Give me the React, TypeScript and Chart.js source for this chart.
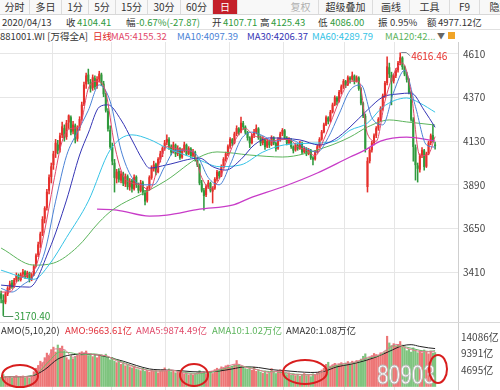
import React, { useEffect, useRef } from 'react';
import { Chart, registerables } from 'chart.js';

Chart.register(...registerables);

const FONT = '"Noto Sans CJK SC", "Noto Sans", sans-serif';
Chart.defaults.font.family = FONT;

// ---------- data ----------
// [open, high, low, close]
const candles: number[][] = [
  [3290,3305,3240,3265],[3255,3285,3170.4,3240],[3245,3300,3235,3290],[3290,3330,3280,3320],[3322,3360,3310,3345],
  [3350,3365,3320,3330],[3330,3375,3325,3365],[3368,3405,3355,3390],[3392,3400,3360,3370],[3368,3405,3360,3395],
  [3398,3425,3385,3410],[3412,3418,3375,3385],[3385,3415,3378,3405],[3405,3410,3355,3370],[3372,3402,3362,3395],
  [3398,3450,3390,3440],[3445,3510,3438,3500],[3505,3575,3495,3560],[3565,3630,3545,3620],[3625,3715,3610,3700],
  [3705,3770,3680,3760],[3765,3865,3750,3850],[3860,3945,3840,3930],[3935,4010,3900,3990],[4000,4075,3975,4060],
  [4065,4140,4040,4120],[4110,4135,4060,4080],[4085,4175,4070,4160],[4165,4235,4150,4210],[4200,4220,4130,4150],
  [4155,4245,4140,4230],[4235,4275,4200,4270],[4260,4270,4165,4180],[4185,4240,4170,4220],[4215,4225,4120,4140],
  [4145,4215,4130,4200],[4205,4265,4190,4250],[4255,4345,4245,4330],[4335,4455,4325,4440],[4445,4505,4420,4490],
  [4495,4527,4445,4460],[4455,4470,4400,4420],[4425,4495,4410,4480],[4475,4490,4415,4430],[4435,4485,4420,4470],
  [4472,4515,4455,4500],[4495,4505,4435,4450],[4445,4460,4375,4390],[4385,4395,4290,4300],[4295,4310,4185,4200],
  [4190,4215,4090,4100],[4095,4120,4000,4020],[4010,4030,3850,3930],[3925,3975,3900,3960],[3965,3980,3905,3920],
  [3915,3965,3900,3950],[3950,3960,3885,3900],[3895,3950,3880,3935],[3935,3945,3865,3880],[3878,3925,3860,3910],
  [3912,3920,3850,3870],[3868,3945,3860,3930],[3932,3940,3875,3890],[3885,3900,3845,3860],[3858,3915,3850,3900],
  [3902,3910,3835,3850],[3845,3860,3779,3800],[3805,3880,3795,3870],[3872,3940,3860,3930],[3930,3995,3920,3980],
  [3978,4020,3965,4000],[4002,4010,3945,3960],[3962,4040,3955,4030],[4030,4075,4015,4060],[4062,4100,4045,4090],
  [4092,4135,4080,4120],[4125,4165,4110,4140],[4138,4150,4085,4100],[4098,4110,4055,4070],[4072,4125,4065,4110],
  [4108,4115,4045,4060],[4062,4105,4050,4090],[4088,4095,4030,4040],[4042,4090,4035,4080],[4082,4125,4070,4110],
  [4108,4115,4050,4060],[4062,4100,4055,4090],[4088,4095,4040,4050],[4052,4085,4045,4070],[4068,4075,4020,4030],
  [4028,4040,3990,4000],[3995,4005,3890,3900],[3895,3915,3850,3860],[3858,3870,3751,3830],[3835,3890,3825,3880],
  [3882,3915,3870,3900],[3898,3905,3850,3860],[3855,3880,3790,3870],[3872,3930,3865,3920],[3922,3970,3910,3960],
  [3958,3965,3925,3940],[3942,4000,3935,3990],[3992,4040,3985,4030],[4032,4070,4020,4060],[4062,4110,4050,4100],
  [4102,4150,4090,4140],[4138,4145,4105,4120],[4122,4180,4115,4170],[4172,4215,4160,4200],[4198,4205,4165,4180],
  [4182,4263,4175,4230],[4228,4240,4195,4210],[4208,4215,4170,4180],[4178,4185,4135,4150],[4148,4155,4095,4120],
  [4122,4170,4115,4160],[4162,4195,4150,4180],[4182,4220,4170,4200],[4198,4205,4140,4150],[4148,4160,4105,4120],
  [4122,4155,4110,4140],[4138,4145,4085,4100],[4102,4140,4095,4130],[4128,4135,4095,4110],[4112,4160,4105,4150],
  [4148,4155,4110,4120],[4118,4125,4075,4090],[4092,4150,4085,4140],[4142,4180,4130,4170],[4172,4200,4160,4190],
  [4188,4195,4140,4150],[4148,4155,4110,4120],[4122,4150,4115,4140],[4138,4145,4090,4100],[4098,4105,4065,4080],
  [4082,4120,4075,4110],[4108,4115,4080,4090],[4092,4130,4085,4120],[4118,4125,4060,4070],[4072,4100,4065,4090],
  [4088,4095,4050,4060],[4062,4090,4055,4080],[4078,4085,4030,4040],[4038,4045,4000,4030],[4032,4080,4025,4070],
  [4072,4110,4065,4100],[4102,4150,4095,4140],[4142,4190,4135,4180],[4182,4230,4175,4220],[4222,4270,4215,4260],
  [4258,4265,4225,4240],[4242,4300,4235,4290],[4292,4340,4285,4330],[4332,4380,4325,4370],[4368,4375,4330,4350],
  [4352,4410,4345,4400],[4402,4440,4390,4430],[4432,4470,4420,4460],[4458,4465,4425,4440],[4442,4490,4435,4480],
  [4478,4485,4450,4470],[4472,4511,4465,4490],[4488,4495,4445,4460],[4462,4490,4455,4480],[4478,4485,4410,4420],
  [4418,4425,4330,4340],[4338,4345,4260,4270],[4268,4280,4070,4090],[3880,4040,3850,4020],[4022,4090,4010,4080],
  [4082,4130,4070,4120],[4122,4170,4110,4160],[4162,4210,4150,4200],[4202,4260,4190,4250],[4252,4320,4240,4310],
  [4312,4390,4300,4380],[4382,4460,4370,4450],[4452,4594,4440,4540],[4535,4560,4480,4500],[4495,4510,4330,4460],
  [4462,4500,4450,4490],[4492,4530,4480,4520],[4522,4570,4510,4560],[4562,4616.46,4550,4590],[4588,4595,4525,4540],
  [4538,4545,4490,4500],[4498,4510,4455,4470],[4468,4475,4390,4400],[4398,4405,4240,4250],[4248,4260,4020,4100],
  [4095,4110,3916,4000],[3995,4010,3905,3980],[3975,4060,3960,4050],[4052,4095,4040,4080],[4078,4085,3970,3990],
  [3992,4070,3985,4060],[4062,4130,4055,4120],[4122,4170,4110,4160],[4162,4220,4125,4132.28],[4107.71,4125.43,4086,4104.41],
];

// turnover (亿)
const amo: number[] = [
  2600,3400,2800,2500,2900,2400,2700,3100,2600,2800,3000,2500,2700,2400,3000,
  4200,5200,6000,7200,6800,8200,9500,8800,
  10500,11200,9800,11800,10900,11500,10200,
  8200,7600,8800,7900,
  8600,9200,9600,9900,9400,10100,8800,9300,8500,9000,8200,8700,
  9000,8800,9200,8100,7600,8300,7200,6800,7100,6300,6600,5900,6200,5600,5300,5800,5000,4800,
  4500,5200,4300,4600,4100,4700,4300,4500,3900,4400,4800,
  5300,4600,5000,4200,4500,3900,4100,3600,4000,3500,3800,3300,3700,3200,3600,3900,
  4500,3800,4200,3600,3900,4300,3700,
  4800,5200,4900,5600,5300,5900,6100,5400,5800,6200,7400,6300,5700,5500,5100,4900,
  5200,4600,5500,4300,4700,4100,3800,4400,3600,4000,5100,4200,3700,4500,4800,4000,
  3800,3400,3900,3200,3600,3100,3500,2900,3300,3700,3100,3400,2800,3600,3200,3900,4300,4700,5200,
  6300,6900,5800,6200,6600,5900,6400,6800,6100,6700,7100,6500,7200,6900,7400,7000,
  7800,8600,9300,7600,8200,8800,9400,9100,8700,9600,9200,9800,
  14300,
  12400,11600,12200,11400,12000,12800,11800,
  11000,10200,10600,9800,11000,10400,9600,
  10200,9600,10400,9800,9300,10100,9500,9663.61,
];

// moving-average key points [candle index, value]
const ma5Pts = [[0,3300],[4,3300],[8,3370],[12,3395],[16,3440],[20,3640],[24,3900],[28,4130],[32,4200],[36,4210],[40,4420],[44,4460],[48,4400],[52,4110],[56,3940],[60,3900],[64,3890],[68,3860],[72,3990],[76,4100],[80,4090],[84,4080],[88,4070],[92,3930],[96,3870],[100,3920],[104,4040],[108,4150],[112,4200],[116,4160],[120,4150],[124,4130],[128,4140],[132,4140],[136,4100],[140,4080],[144,4050],[148,4140],[152,4260],[156,4380],[160,4460],[164,4460],[168,4170],[172,4130],[176,4350],[180,4500],[184,4560],[188,4400],[192,4050],[196,4060],[199,4155.32]];
const ma10Pts = [[0,3320],[5,3300],[10,3340],[15,3390],[20,3520],[25,3800],[30,4050],[35,4180],[40,4300],[45,4440],[50,4350],[55,4080],[60,3930],[65,3890],[70,3890],[75,3990],[80,4080],[85,4080],[90,4050],[95,3930],[100,3890],[105,4000],[110,4140],[115,4180],[120,4160],[125,4130],[130,4140],[135,4130],[140,4090],[145,4070],[150,4150],[155,4280],[160,4410],[165,4440],[170,4260],[175,4220],[180,4400],[185,4520],[190,4320],[195,4110],[199,4097.39]];
const ma30Pts = [[0,3338],[13,3327],[22,3531],[30,3806],[36,4054],[40,4175],[45,4318],[49,4330],[55,4247],[60,4137],[65,4026],[68,3982],[76,4000],[91,4037],[97,3990],[103,3971],[110,4030],[116,4109],[123,4148],[137,4137],[146,4109],[153,4140],[160,4208],[168,4302],[175,4373],[182,4390],[188,4395],[194,4300],[199,4206.37]];
const ma60Pts = [[0,3420],[15,3370],[22,3450],[30,3600],[40,3800],[50,4082],[60,4165],[68,4140],[76,4093],[91,4026],[100,3990],[110,4000],[120,4070],[130,4110],[145,4120],[153,4130],[160,4190],[168,4230],[175,4318],[186,4368],[192,4340],[199,4289.79]];
const ma120Pts = [[0,3542],[15,3448],[24,3459],[35,3548],[45,3685],[51,3751],[68,3861],[76,3916],[91,4043],[99,4071],[114,4054],[129,4043],[149,4098],[160,4153],[168,4208],[178,4247],[186,4236],[199,4219]];
const ma250Pts = [[44,3756],[53,3751],[68,3718],[76,3723],[91,3756],[106,3778],[114,3817],[129,3878],[145,3955],[160,4043],[167,4082],[174,4131],[186,4153],[199,4131]];

const ama5Pts = [[0,2900],[4,2700],[9,2800],[13,2700],[17,4800],[21,8200],[25,10700],[29,10500],[33,8300],[38,9600],[43,9000],[48,8800],[53,7300],[58,6200],[63,5200],[68,4500],[73,4400],[78,4700],[83,3900],[88,3500],[93,4100],[98,4500],[103,5600],[108,6400],[113,5300],[118,4700],[123,4000],[128,4400],[133,3500],[138,3300],[143,3300],[148,4500],[153,6300],[158,6500],[163,7100],[168,8300],[173,9000],[177,10600],[181,12000],[186,10900],[190,10200],[194,9900],[199,9874.49]];
const ama10Pts = [[0,2800],[6,2750],[12,2850],[17,4000],[22,7200],[27,9800],[32,9600],[37,9000],[42,9300],[47,8800],[52,7800],[57,6600],[62,5500],[67,4700],[72,4400],[78,4600],[84,4000],[90,3700],[96,4000],[102,5000],[108,5900],[114,5400],[120,4400],[126,4200],[132,3700],[138,3400],[144,3400],[150,5200],[156,6300],[162,6800],[168,8000],[174,9000],[180,11600],[186,11200],[192,10300],[196,10000],[199,10200]];
const ama20Pts = [[0,2800],[8,2800],[14,3000],[20,4800],[26,7800],[32,9000],[38,9200],[44,9000],[50,8200],[56,7200],[62,6000],[68,5000],[75,4700],[82,4500],[88,4200],[94,4100],[100,4400],[106,5000],[112,5600],[118,5400],[124,4800],[130,4500],[136,4200],[142,4000],[148,4300],[154,5600],[160,6300],[166,7200],[172,8400],[178,10000],[184,11600],[188,11900],[192,11400],[196,11000],[199,10800]];

const slotCount = 210;
const monthStarts = [24, 51, 76, 105, 130, 158, 181];
const priceTicks = [3410, 3650, 3890, 4130, 4370, 4610];
const amoTicks = [4695, 9391, 14086];

// ---------- styles ----------
const RED = '#e6302c';
const GREEN = '#2f9a3d';
const VRED = 'rgba(232,80,80,0.78)';
const VGREEN = 'rgba(90,180,90,0.78)';
const GRID = '#e6e6e6';
const TXT = '#333';
const NUMG = '#2f9a3d';
const C_MA5 = '#e2486a';
const C_MA10 = '#4a82d6';
const C_MA30 = '#3535b5';
const C_MA60 = '#35c3e6';
const C_MA120 = '#5cb45c';
const C_MA250 = '#c83cc8';

const toXY = (pts: number[][]) => pts.map(([x, y]) => ({ x, y }));
const labels = Array.from({ length: slotCount }, (_, i) => i);
const isUp = candles.map((c) => c[3] >= c[0]);

const lineDs = (label: string, pts: number[][], color: string, width = 1) => ({
  type: 'line' as const,
  label,
  data: toXY(pts),
  borderColor: color,
  borderWidth: width,
  pointRadius: 0,
  cubicInterpolationMode: 'monotone' as const,
  order: 0,
});

const makeXScale = () => ({
  offset: true,
  grid: {
    offset: true,
    drawTicks: false,
    lineWidth: 1,
    color: (c: any) => (monthStarts.includes(c.index) ? GRID : 'rgba(0,0,0,0)'),
  },
  ticks: { display: false, autoSkip: false },
  border: { display: false },
});

const extremesPlugin = {
  id: 'extremes',
  afterDatasetsDraw(chart: any) {
    const { ctx, scales } = chart;
    const x = scales.x;
    const y = scales.y;
    let hi = 0;
    let lo = 0;
    candles.forEach((c, i) => {
      if (c[1] > candles[hi][1]) hi = i;
      if (c[2] < candles[lo][2]) lo = i;
    });
    ctx.save();
    ctx.font = `10px ${FONT}`;
    ctx.textBaseline = 'middle';
    ctx.lineWidth = 1;
    const hx = x.getPixelForValue(hi);
    const hy = y.getPixelForValue(candles[hi][1]);
    ctx.strokeStyle = '#7d8896';
    ctx.beginPath();
    ctx.moveTo(hx + 1, Math.round(hy) - 0.5);
    ctx.lineTo(hx + 6, Math.round(hy) - 0.5);
    ctx.lineTo(hx + 10, hy + 3);
    ctx.stroke();
    ctx.fillStyle = RED;
    ctx.fillText(candles[hi][1].toFixed(2), hx + 11, hy + 3);
    const lx = x.getPixelForValue(lo);
    const ly = y.getPixelForValue(candles[lo][2]);
    ctx.strokeStyle = '#4f8a60';
    ctx.beginPath();
    ctx.moveTo(lx, Math.round(ly) + 0.5);
    ctx.lineTo(lx + 10, Math.round(ly) + 0.5);
    ctx.stroke();
    ctx.fillStyle = NUMG;
    ctx.fillText(candles[lo][2].toFixed(2), lx + 11, ly + 1);
    ctx.restore();
  },
};

const T = ({ left, top, children, color = TXT, size = 10 }: any) => (
  <span
    style={{
      position: 'absolute',
      left,
      top,
      fontSize: size,
      lineHeight: '14px',
      color,
      whiteSpace: 'nowrap',
    }}
  >
    {children}
  </span>
);

const Cell = ({ left, width, text, color = TXT, bg = 'transparent' }: any) => (
  <div
    style={{
      position: 'absolute',
      left,
      top: 0,
      width,
      height: 14,
      lineHeight: '14px',
      textAlign: 'center',
      fontSize: 10,
      color,
      background: bg,
      borderRight: '1px solid #dcdcdc',
      boxSizing: 'border-box',
    }}
  >
    {text}
  </div>
);

export default function App() {
  const mainRef = useRef<HTMLCanvasElement>(null);
  const volRef = useRef<HTMLCanvasElement>(null);

  useEffect(() => {
    const candleColors = isUp.map((u) => (u ? RED : GREEN));
    const main = new Chart(mainRef.current as HTMLCanvasElement, {
      type: 'bar',
      data: {
        labels,
        datasets: [
          lineDs('MA5', ma5Pts, C_MA5),
          lineDs('MA10', ma10Pts, C_MA10),
          lineDs('MA30', ma30Pts, C_MA30),
          lineDs('MA60', ma60Pts, C_MA60),
          lineDs('MA120', ma120Pts, C_MA120),
          lineDs('MA250', ma250Pts, C_MA250, 1.3),
          {
            type: 'bar',
            label: 'body',
            data: candles.map((c) => [c[0], c[3]]),
            backgroundColor: candleColors,
            barThickness: 1.4,
            minBarLength: 1,
            grouped: false,
            order: 1,
          } as any,
          {
            type: 'bar',
            label: 'wick',
            data: candles.map((c) => [c[2], c[1]]),
            backgroundColor: candleColors,
            barThickness: 0.9,
            grouped: false,
            order: 2,
          } as any,
        ],
      },
      options: {
        responsive: false,
        maintainAspectRatio: false,
        animation: false,
        devicePixelRatio: 1,
        layout: { padding: 0 },
        plugins: { legend: { display: false }, tooltip: { enabled: false } },
        scales: {
          x: makeXScale() as any,
          y: {
            position: 'right',
            min: 3135,
            max: 4676,
            afterBuildTicks: (s: any) => {
              s.ticks = priceTicks.map((v) => ({ value: v }));
            },
            afterFit: (s: any) => {
              s.width = 42;
              s.paddingTop = 0;
              s.paddingBottom = 0;
            },
            grid: { color: GRID, drawTicks: false },
            border: { display: true, color: '#cfcfcf' },
            ticks: {
              color: '#444',
              font: { size: 10, family: FONT },
              padding: 5,
              callback: (v: any) => String(v),
            },
          } as any,
        },
      },
      plugins: [extremesPlugin],
    });

    const vol = new Chart(volRef.current as HTMLCanvasElement, {
      type: 'bar',
      data: {
        labels,
        datasets: [
          lineDs('AMA5', ama5Pts, '#e27a90'),
          lineDs('AMA10', ama10Pts, '#6cb86c'),
          lineDs('AMA20', ama20Pts, '#222'),
          {
            type: 'bar',
            label: 'AMO',
            data: amo,
            backgroundColor: isUp.map((u) => (u ? VRED : VGREEN)),
            barThickness: 1.5,
            grouped: false,
            order: 1,
          } as any,
        ],
      },
      options: {
        responsive: false,
        maintainAspectRatio: false,
        animation: false,
        devicePixelRatio: 1,
        layout: { padding: 0 },
        plugins: { legend: { display: false }, tooltip: { enabled: false } },
        scales: {
          x: makeXScale() as any,
          y: {
            position: 'right',
            min: -996,
            max: 18355,
            afterBuildTicks: (s: any) => {
              s.ticks = amoTicks.map((v) => ({ value: v }));
            },
            afterFit: (s: any) => {
              s.width = 42;
              s.paddingTop = 0;
              s.paddingBottom = 0;
            },
            grid: { color: 'rgba(0,0,0,0)', drawTicks: false },
            border: { display: true, color: '#cfcfcf' },
            ticks: {
              color: '#444',
              font: { size: 10, family: FONT },
              padding: 3,
              callback: (v: any) => `${v}亿`,
            },
          } as any,
        },
      },
    });

    return () => {
      main.destroy();
      vol.destroy();
    };
  }, []);

  const R2 = 9.5;
  return (
    <div
      style={{
        position: 'absolute',
        left: 0,
        top: 0,
        width: 500,
        height: 390,
        overflow: 'hidden',
        background: '#fff',
        fontFamily: FONT,
      }}
    >
      {/* toolbar */}
      <div style={{ position: 'absolute', left: 0, top: 0, width: 500, height: 14, background: '#f8f8f8', borderBottom: '1px solid #d8d8d8' }} />
      <Cell left={0} width={30} text="分时" />
      <Cell left={30} width={32} text="多日" />
      <Cell left={62} width={27} text="1分" />
      <Cell left={89} width={27} text="5分" />
      <Cell left={116} width={32} text="15分" />
      <Cell left={148} width={33} text="30分" />
      <Cell left={181} width={32} text="60分" />
      <Cell left={213} width={25} text="日" color="#fff" bg="#c4202a" />
      <Cell left={283} width={36} text="复权" color="#b0b0b0" />
      <Cell left={319} width={54} text="超级叠加" />
      <Cell left={373} width={37} text="画线" />
      <Cell left={410} width={40} text="工具" />
      <Cell left={450} width={30} text="F9" />
      <Cell left={480} width={40} text="隐藏" />

      {/* info row */}
      <div style={{ position: 'absolute', left: 0, top: 29, width: 500, height: 0, borderTop: '1px solid #e0e0e0' }} />
      <T left={2} top={15} size={R2}>2020/04/13</T>
      <T left={66} top={15} size={R2}>收</T>
      <T left={77} top={15} size={R2} color={NUMG}>4104.41</T>
      <T left={126} top={15} size={R2}>幅</T>
      <T left={136} top={15} size={R2} color={NUMG}>-0.67%(-27.87)</T>
      <T left={212} top={15} size={R2}>开</T>
      <T left={223} top={15} size={R2} color={NUMG}>4107.71</T>
      <T left={260} top={15} size={R2}>高</T>
      <T left={271} top={15} size={R2} color={NUMG}>4125.43</T>
      <T left={318} top={15} size={R2}>低</T>
      <T left={330} top={15} size={R2} color={NUMG}>4086.00</T>
      <T left={378} top={15} size={R2}>振</T>
      <T left={390} top={15} size={R2}>0.95%</T>
      <T left={427} top={15} size={R2}>额</T>
      <T left={438} top={15} size={R2}>4977.12亿</T>

      {/* legend row */}
      <T left={0} top={29} size={9.5}>881001.WI [万得全A]</T>
      <T left={93} top={29} size={9.5} color="#e02828">日线</T>
      <T left={111} top={29} size={9.5} color={C_MA5}>MA5:4155.32</T>
      <T left={177} top={29} size={9.5} color={C_MA10}>MA10:4097.39</T>
      <T left={247} top={29} size={9.5} color={C_MA30}>MA30:4206.37</T>
      <T left={312} top={29} size={9.5} color={C_MA60}>MA60:4289.79</T>
      <T left={385} top={29} size={9.5} color={C_MA120}>MA120:42...</T>
      <T left={437} top={29} size={8} color="#666">▼</T>
      <div style={{ position: 'absolute', left: 448, top: 32, width: 7, height: 7, background: '#f0a428' }} />

      <canvas
        ref={mainRef}
        width={500}
        height={280}
        style={{ position: 'absolute', left: 0, top: 42, width: 500, height: 280, display: 'block' }}
      />
      <canvas
        ref={volRef}
        width={500}
        height={68}
        style={{ position: 'absolute', left: 0, top: 322, width: 500, height: 68, display: 'block' }}
      />
      <div style={{ position: 'absolute', left: 0, top: 322, width: 500, height: 0, borderTop: '1px solid #d8d8d8' }} />

      {/* AMO legend */}
      <T left={1} top={323} size={9.5}>AMO(5,10,20)</T>
      <T left={65} top={323} size={9.5} color="#e0303a">AMO:9663.61亿</T>
      <T left={136} top={323} size={9.5} color="#e04a6a">AMA5:9874.49亿</T>
      <T left={212} top={323} size={9.5} color="#5cb45c">AMA10:1.02万亿</T>
      <T left={286} top={323} size={9.5}>AMA20:1.08万亿</T>

      <svg
        width={500}
        height={390}
        style={{ position: 'absolute', left: 0, top: 0, pointerEvents: 'none' }}
      >
        <text
          x={377}
          y={384}
          fontSize={27}
          fill="#ffffff"
          stroke="#b8b8b8"
          strokeWidth={0.8}
          textLength={58}
          lengthAdjust="spacingAndGlyphs"
          fontFamily="Liberation Sans, Arial, sans-serif"
        >
          80903
        </text>
        <ellipse cx={20} cy={376} rx={18} ry={11} fill="none" stroke="#d81e1e" strokeWidth={2} />
        <ellipse cx={194} cy={375} rx={14} ry={11} fill="none" stroke="#d81e1e" strokeWidth={2} />
        <ellipse cx={305} cy={372} rx={22} ry={12} fill="none" stroke="#d81e1e" strokeWidth={2} />
        <ellipse cx={438} cy={369} rx={9} ry={14} fill="none" stroke="#d81e1e" strokeWidth={2} />
      </svg>
    </div>
  );
}
